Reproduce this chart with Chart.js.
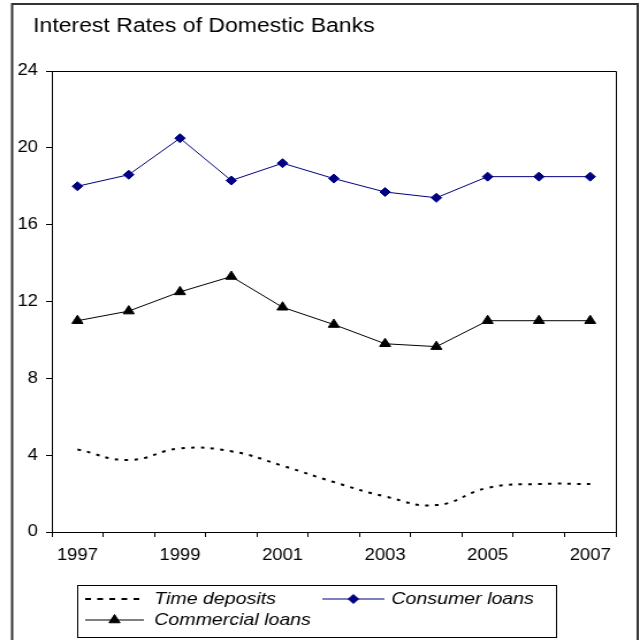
<!DOCTYPE html>
<html>
<head>
<meta charset="utf-8">
<script src="https://cdn.jsdelivr.net/npm/chart.js@4/dist/chart.umd.min.js"></script>
<style>
  html, body { margin: 0; padding: 0; background: #fff; }
  /* drawn a bit narrow, then widened to 640 so the Arial-style text comes out wide */
  #wrap { width: 556px; height: 640px; transform: scaleX(1.1511); transform-origin: 0 0; }
</style>
</head>
<body>
<div id="wrap"><canvas id="chart" width="556" height="640"></canvas></div>
<script>
const years = ['1997','1998','1999','2000','2001','2002','2003','2004','2005','2006','2007'];
const yearLabels = ['1997','','1999','','2001','','2003','','2005','','2007'];
const timeDeposits = [4.3, 3.75, 4.35, 4.2, 3.45, 2.6, 1.85, 1.4, 2.3, 2.5, 2.5];
const consumerLoans = [18.0, 18.6, 20.5, 18.3, 19.2, 18.4, 17.7, 17.4, 18.5, 18.5, 18.5];
const commercialLoans = [11.0, 11.5, 12.5, 13.3, 11.7, 10.8, 9.8, 9.65, 11.0, 11.0, 11.0];
const yTicks = [0, 4, 8, 12, 16, 20, 24];

const FONT = 'Arial, "Liberation Sans", sans-serif';

// outer frame, title, plot box and the boxed legend
const frame = {
  id: 'frame',
  beforeDraw(chart) {
    const ctx = chart.ctx;
    ctx.save();
    ctx.fillStyle = '#fff';
    ctx.fillRect(0, 0, chart.width, chart.height);
    ctx.strokeStyle = '#333';
    ctx.lineWidth = 2;
    ctx.strokeRect(10.5, 4, 543.5, 700);
    ctx.fillStyle = '#000';
    ctx.font = '20px ' + FONT;
    ctx.textBaseline = 'alphabetic';
    ctx.fillText('Interest Rates of Domestic Banks', 28.7, 32);
    ctx.restore();
  },
  afterDatasetsDraw(chart) {
    const ctx = chart.ctx;
    const a = chart.chartArea;
    ctx.save();
    ctx.strokeStyle = '#000';
    ctx.lineWidth = 1;
    ctx.beginPath();
    ctx.moveTo(a.left, Math.round(a.top) + 0.5);
    ctx.lineTo(Math.round(a.right) + 0.5, Math.round(a.top) + 0.5);
    ctx.lineTo(Math.round(a.right) + 0.5, a.bottom);
    ctx.stroke();

    // legend
    ctx.strokeRect(67.5, 585.5, 416, 52);
    const items = [
      { ds: 0, x0: 74, x1: 125, tx: 134, y: 599 },
      { ds: 1, x0: 280, x1: 334, tx: 340, y: 599 },
      { ds: 2, x0: 74, x1: 125, tx: 134, y: 620 }
    ];
    items.forEach(it => {
      const d = chart.data.datasets[it.ds];
      ctx.save();
      ctx.strokeStyle = d.borderColor;
      ctx.lineWidth = d.borderWidth;
      ctx.setLineDash(d.borderDash ? [5, 5.5] : []);
      ctx.beginPath();
      ctx.moveTo(it.x0, it.y);
      ctx.lineTo(it.x1, it.y);
      ctx.stroke();
      ctx.restore();
      if (d.pointRadius > 0) {
        ctx.fillStyle = d.pointBackgroundColor;
        ctx.strokeStyle = d.pointBorderColor;
        Chart.helpers.drawPoint(ctx, {
          pointStyle: d.pointStyle, radius: d.pointRadius, rotation: 0, borderWidth: 1
        }, (it.x0 + it.x1) / 2, it.y);
      }
      ctx.fillStyle = '#000';
      ctx.font = 'italic 17px ' + FONT;
      ctx.textBaseline = 'middle';
      ctx.fillText(d.label, it.tx, it.y);
    });
    ctx.restore();
  }
};

new Chart(document.getElementById('chart'), {
  type: 'line',
  data: {
    labels: years,
    datasets: [
      {
        label: 'Time deposits',
        data: timeDeposits,
        borderColor: '#000',
        borderWidth: 2,
        borderDash: [3, 5.5],
        pointRadius: 0,
        tension: 0.45,
        fill: false
      },
      {
        label: 'Consumer loans',
        data: consumerLoans,
        borderColor: '#000080',
        borderWidth: 1,
        pointStyle: 'rectRot',
        pointRadius: 4.5,
        pointBackgroundColor: '#000080',
        pointBorderColor: '#000080',
        tension: 0,
        fill: false
      },
      {
        label: 'Commercial loans',
        data: commercialLoans,
        borderColor: '#000',
        borderWidth: 1,
        pointStyle: 'triangle',
        pointRadius: 5.5,
        pointBackgroundColor: '#000',
        pointBorderColor: '#000',
        tension: 0,
        fill: false
      }
    ]
  },
  options: {
    responsive: false,
    animation: false,
    events: [],
    layout: { padding: { left: 0, top: 71, right: 21, bottom: 68 } },
    plugins: { legend: { display: false }, title: { display: false }, tooltip: { enabled: false } },
    scales: {
      x: {
        type: 'category',
        offset: true,
        grid: { display: true, offset: true, drawOnChartArea: false, drawTicks: true, tickLength: 5, color: '#000' },
        border: { display: true, color: '#000', width: 1 },
        ticks: {
          autoSkip: false, maxRotation: 0, minRotation: 0, padding: 9,
          color: '#000', font: { family: FONT, size: 16 },
          callback: (v, i) => yearLabels[i]
        },
        afterFit: s => { s.height = 40; }
      },
      y: {
        min: 0, max: 24,
        afterBuildTicks: s => { s.ticks = yTicks.map(v => ({ value: v })); },
        grid: { display: true, drawOnChartArea: false, drawTicks: true, tickLength: 5, color: '#000' },
        border: { display: true, color: '#000', width: 1 },
        ticks: { padding: 7, color: '#000', font: { family: FONT, size: 16 } },
        afterFit: s => { s.width = 45; }
      }
    }
  },
  plugins: [frame]
});
</script>
</body>
</html>
